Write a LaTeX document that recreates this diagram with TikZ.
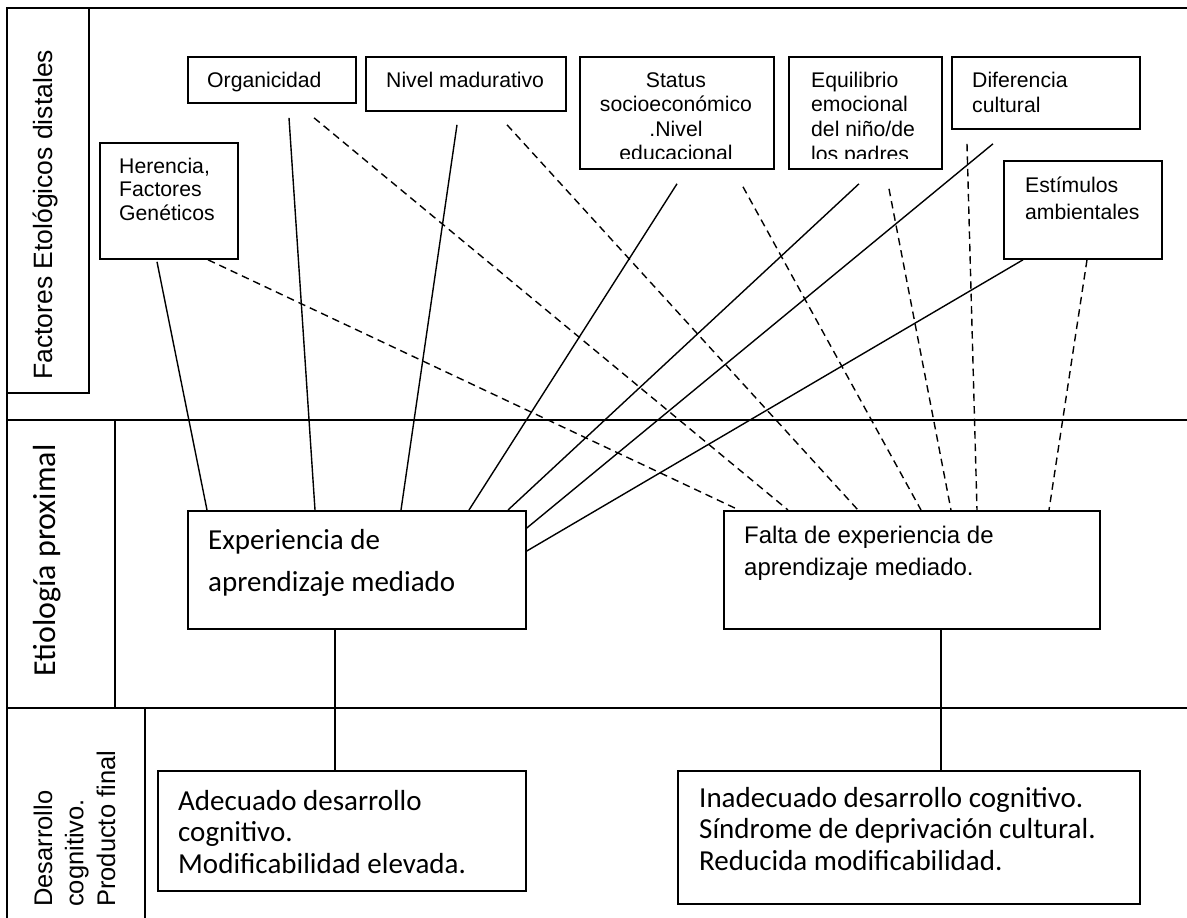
\documentclass[tikz,border=0pt]{standalone}
\usepackage{fontspec}
\setmainfont{Liberation Sans}
\newfontfamily\calibri{Carlito}
\usetikzlibrary{calc}
\newcommand\fs[2]{\fontsize{#1}{#2}\selectfont}

\begin{document}
\begin{tikzpicture}[x=1pt,y=-1pt,
  frame/.style={line width=2pt},
  box/.style={draw,line width=1.8pt,rectangle,inner sep=0pt,anchor=north west},
  txt/.style={inner sep=0pt,anchor=base west},
  solidline/.style={line width=1.4pt},
  dashline/.style={line width=1.4pt,dash pattern=on 7.5pt off 5pt},
]
\useasboundingbox (0,0) rectangle (1187,918);

% table frame and row headers
\draw[frame] (1187,8) -- (7,8) -- (7,918);
\draw[frame] (7,420) -- (1187,420);
\draw[frame] (7,708) -- (1187,708);
\draw[frame] (89,8) -- (89,393) -- (7,393);
\draw[frame] (115,420) -- (115,708);
\draw[frame] (145,708) -- (145,918);

\node[txt,rotate=90] (lab1) at (52,380) {\fs{26.5}{30}Factores Etológicos distales};
\node[txt,rotate=90] (lab2) at (55.5,677) {\calibri\fs{32}{36}Etiología proximal};
\node[txt,rotate=90] (lab3) at (52,907) {\fs{25.5}{31.5}\begin{tabular}[t]{@{}l@{}}Desarrollo\\cognitivo.\\Producto final\end{tabular}};

% distal factors
\node[box,minimum width=138pt,minimum height=116pt] (her) at (99,142) {};
\node[box,minimum width=168pt,minimum height=46pt]  (org) at (187,56) {};
\node[box,minimum width=200pt,minimum height=54pt]  (niv) at (365,56) {};
\node[box,minimum width=194pt,minimum height=112pt] (sta) at (579,56) {};
\node[box,minimum width=153pt,minimum height=112pt] (equ) at (788,56) {};
\node[box,minimum width=188pt,minimum height=72pt]  (dif) at (951,56) {};
\node[box,minimum width=158pt,minimum height=98pt]  (est) at (1003,160) {};

\node[txt] (herT) at (119,173) {\fs{21.2}{23.5}\begin{tabular}[t]{@{}l@{}}Herencia,\\Factores\\Genéticos\end{tabular}};
\node[txt] (orgT) at (207,87) {\fs{21.2}{24.5}Organicidad};
\node[txt] (nivT) at (386,87) {\fs{21.2}{24.5}Nivel madurativo};
\begin{scope}
  \clip (579,56) rectangle (773,158);
  \node[txt,anchor=base] (staT) at (676,87) {\fs{21.2}{24.5}\begin{tabular}[t]{@{}c@{}}Status\\socioeconómico\\.Nivel\\educacional\end{tabular}};
\end{scope}
\begin{scope}
  \clip (788,56) rectangle (941,158);
  \node[txt] (equT) at (811,87) {\fs{21.2}{24.8}\begin{tabular}[t]{@{}l@{}}Equilibrio\\emocional\\del niño/de\\los padres\end{tabular}};
\end{scope}
\node[txt] (difT) at (972,87) {\fs{21.2}{25}\begin{tabular}[t]{@{}l@{}}Diferencia\\cultural\end{tabular}};
\node[txt] (estT) at (1025,192) {\fs{21.2}{27}\begin{tabular}[t]{@{}l@{}}Estímulos\\ambientales\end{tabular}};

% proximal etiology
\node[box,minimum width=338pt,minimum height=118pt] (exp) at (187,510) {};
\node[box,minimum width=376pt,minimum height=118pt] (fal) at (723,510) {};
\node[txt] (expT) at (208,549) {\calibri\fs{29}{42}\begin{tabular}[t]{@{}l@{}}Experiencia de\\aprendizaje mediado\end{tabular}};
\node[txt] (falT) at (744,543) {\fs{24}{32}\begin{tabular}[t]{@{}l@{}}Falta de experiencia de\\aprendizaje mediado.\end{tabular}};

% final product
\node[box,minimum width=368pt,minimum height=120pt] (ade) at (157,770) {};
\node[box,minimum width=462pt,minimum height=133pt] (ina) at (677,770) {};
\node[txt] (adeT) at (178,810) {\calibri\fs{29}{31.5}\begin{tabular}[t]{@{}l@{}}Adecuado desarrollo\\cognitivo.\\Modificabilidad elevada.\end{tabular}};
\node[txt] (inaT) at (699,807) {\calibri\fs{29}{31.5}\begin{tabular}[t]{@{}l@{}}Inadecuado desarrollo cognitivo.\\Síndrome de deprivación cultural.\\Reducida modificabilidad.\end{tabular}};

% factors present -> mediated learning experience
\draw[solidline] ($(her.south west)+(58,2)$)  -- ($(exp.north west)+(20,0)$);
\draw[solidline] ($(org.south west)+(102,14)$) -- ($(exp.north west)+(128,0)$);
\draw[solidline] ($(niv.south west)+(92,13)$)  -- ($(exp.north west)+(214,0)$);
\draw[solidline] ($(sta.south west)+(98,14)$)  -- ($(exp.north west)+(282,0)$);
\draw[solidline] ($(equ.south west)+(71,14)$)  -- ($(exp.north west)+(321,0)$);
\draw[solidline] ($(dif.south west)+(42,14)$)  -- ($(exp.north east)+(0,18)$);
\draw[solidline] ($(est.south west)+(20,0)$)   -- ($(exp.north east)+(0,41)$);

% factors missing -> lack of mediated learning
\draw[dashline] ($(her.south west)+(109,0)$)  -- ($(fal.north west)+(16,0)$);
\draw[dashline] ($(org.south west)+(127,14)$) -- ($(fal.north west)+(65,0)$);
\draw[dashline] ($(niv.south west)+(142,13)$) -- ($(fal.north west)+(135,0)$);
\draw[dashline] ($(sta.south west)+(164,17)$) -- ($(fal.north west)+(198,0)$);
\draw[dashline] ($(equ.south west)+(101,19)$) -- ($(fal.north west)+(228,0)$);
\draw[dashline] ($(dif.south west)+(16,14)$)  -- ($(fal.north west)+(254,0)$);
\draw[dashline] ($(est.south west)+(84,0)$)   -- ($(fal.north west)+(326,0)$);

% outcomes
\draw[solidline] ([xshift=148pt]exp.south west) -- ([xshift=178pt]ade.north west);
\draw[solidline] ([xshift=218pt]fal.south west) -- ([xshift=264pt]ina.north west);
\end{tikzpicture}
\end{document}
